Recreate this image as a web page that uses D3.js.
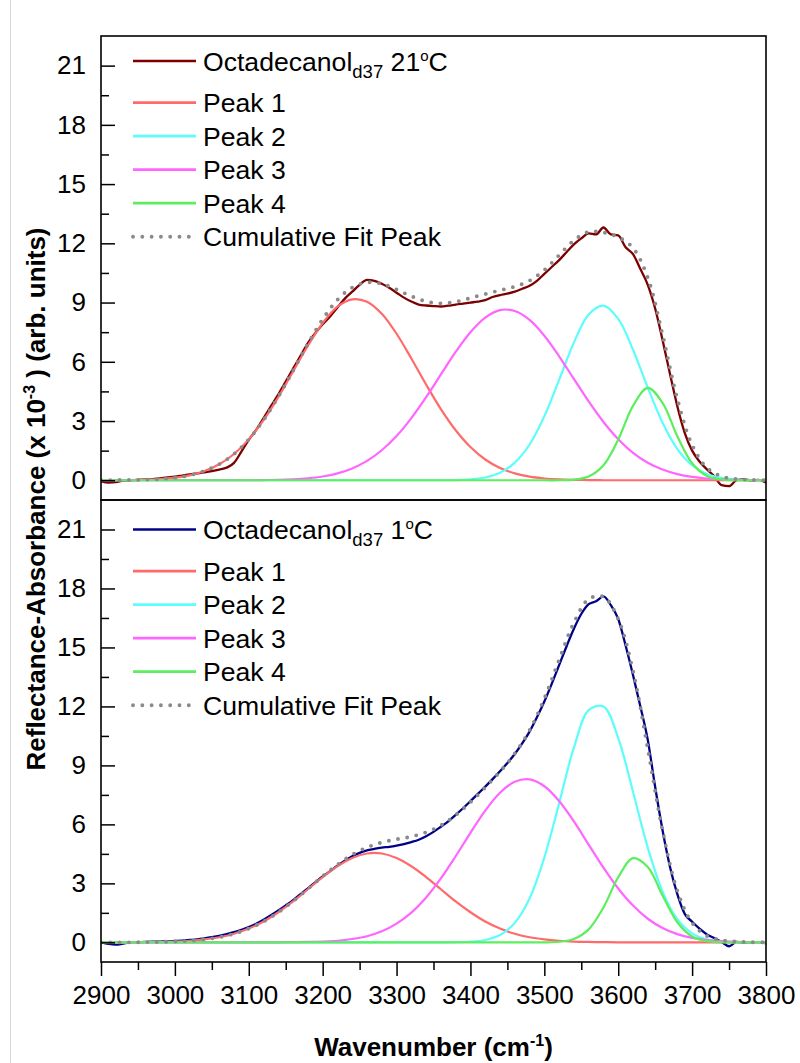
<!DOCTYPE html>
<html>
<head>
<meta charset="utf-8">
<script src="https://cdn.jsdelivr.net/npm/d3@7"></script>
<style>
  body { margin: 0; background: #fff; }
  svg text { font-family: "Liberation Sans", Arial, sans-serif; fill: #000; }
  .tick text { font-size: 26px; }
  .tick line { stroke: #000; stroke-width: 1.5; }
</style>
</head>
<body>
<svg id="chart" width="800" height="1063"></svg>
<script>
// Wavenumber grids (cm^-1)
const fitWavenumbers = [2900, 2920, 2940, 2960, 2980, 3000, 3020, 3040, 3060, 3080, 3100, 3120, 3140, 3160, 3180, 3200,
  3220, 3240, 3260, 3280, 3300, 3320, 3340, 3360, 3380, 3400, 3420, 3440, 3460, 3480, 3500, 3520, 3540, 3560, 3580,
  3600, 3620, 3640, 3660, 3680, 3700, 3720, 3740, 3760, 3780, 3800];
const dataWavenumbers = [2900, 2910, 2920, 2930, 2940, 2950, 2960, 2970, 2980, 2990, 3000, 3010, 3020, 3030, 3040, 3050,
  3060, 3070, 3080, 3090, 3100, 3110, 3120, 3130, 3140, 3150, 3160, 3170, 3180, 3190, 3200, 3210, 3220, 3230, 3240,
  3250, 3260, 3270, 3280, 3290, 3300, 3310, 3320, 3330, 3340, 3350, 3360, 3370, 3380, 3390, 3400, 3410, 3420, 3430,
  3440, 3450, 3460, 3470, 3480, 3490, 3500, 3510, 3520, 3530, 3540, 3550, 3560, 3570, 3580, 3590, 3600, 3610, 3620,
  3630, 3640, 3650, 3660, 3670, 3680, 3690, 3700, 3710, 3720, 3730, 3740, 3750, 3760, 3770, 3780, 3790, 3800];

// Octadecanol-d37 at 21 °C (x 10^-3)
const warmMeasured = [-0.05, -0.12, -0.10, -0.02, 0.00, 0.02, 0.04, 0.06, 0.10, 0.14,
  0.18, 0.24, 0.30, 0.35, 0.40, 0.46, 0.54, 0.64, 0.88, 1.45,
  2.05, 2.55, 3.15, 3.75, 4.35, 5.00, 5.65, 6.30, 6.95, 7.45,
  7.90, 8.30, 8.75, 9.20, 9.55, 9.90, 10.15, 10.10, 9.95, 9.75,
  9.50, 9.25, 9.05, 8.90, 8.85, 8.82, 8.80, 8.84, 8.90, 8.95,
  9.00, 9.05, 9.12, 9.28, 9.38, 9.45, 9.55, 9.70, 9.85, 10.10,
  10.45, 10.80, 11.15, 11.55, 11.95, 12.25, 12.50, 12.45, 12.80, 12.45,
  12.40, 11.80, 11.45, 10.70, 9.90, 8.70, 7.10, 5.40, 3.75, 2.40,
  1.50, 0.95, 0.55, 0.20, -0.25, -0.30, 0.00, 0.05, 0.00, 0.02,
  -0.12];
const warmPeak1 = [0.00, 0.01, 0.01, 0.03, 0.06, 0.13, 0.25, 0.47, 0.81, 1.33, 2.07, 3.04, 4.21, 5.51, 6.81, 7.96,
  8.79, 9.16, 9.04, 8.43, 7.42, 6.17, 4.85, 3.60, 2.53, 1.68, 1.05, 0.62, 0.35, 0.18, 0.09, 0.04, 0.02, 0.01, 0.00,
  0.00, 0.00, 0.00, 0.00, 0.00, 0.00, 0.00, 0.00, 0.00, 0.00, 0.00];
const warmPeak2 = [0.00, 0.00, 0.00, 0.00, 0.00, 0.00, 0.00, 0.00, 0.00, 0.00, 0.00, 0.00, 0.00, 0.00, 0.00, 0.00,
  0.00, 0.00, 0.00, 0.00, 0.00, 0.00, 0.00, 0.00, 0.01, 0.05, 0.14, 0.38, 0.89, 1.81, 3.24, 5.08, 6.97, 8.39, 8.84,
  8.17, 6.61, 4.69, 2.91, 1.58, 0.76, 0.32, 0.12, 0.04, 0.01, 0.00];
const warmPeak3 = [0.00, 0.00, 0.00, 0.00, 0.00, 0.00, 0.00, 0.00, 0.00, 0.00, 0.00, 0.01, 0.02, 0.05, 0.10, 0.19,
  0.35, 0.60, 0.98, 1.52, 2.24, 3.15, 4.21, 5.36, 6.50, 7.50, 8.24, 8.62, 8.57, 8.12, 7.32, 6.28, 5.13, 3.99, 2.95,
  2.08, 1.39, 0.89, 0.54, 0.31, 0.17, 0.09, 0.04, 0.02, 0.01, 0.00];
const warmPeak4 = [0.00, 0.00, 0.00, 0.00, 0.00, 0.00, 0.00, 0.00, 0.00, 0.00, 0.00, 0.00, 0.00, 0.00, 0.00, 0.00,
  0.00, 0.00, 0.00, 0.00, 0.00, 0.00, 0.00, 0.00, 0.00, 0.00, 0.00, 0.00, 0.00, 0.00, 0.00, 0.00, 0.03, 0.19, 0.76,
  2.06, 3.77, 4.68, 3.92, 2.23, 0.86, 0.22, 0.04, 0.00, 0.00, 0.00];
const warmCumulative = [0.00, 0.01, 0.01, 0.03, 0.06, 0.13, 0.25, 0.47, 0.81, 1.33, 2.07, 3.05, 4.23, 5.56, 6.91, 8.15,
  9.14, 9.76, 10.02, 9.95, 9.66, 9.32, 9.06, 8.96, 9.04, 9.23, 9.43, 9.62, 9.81, 10.11, 10.65, 11.40, 12.15, 12.58, 12.55,
  12.31, 11.77, 10.26, 7.37, 4.12, 1.79, 0.63, 0.20, 0.06, 0.02, 0.00];

// Octadecanol-d37 at 1 °C (x 10^-3)
const coldMeasured = [0.00, -0.08, -0.12, -0.06, 0.00, 0.01, 0.02, 0.03, 0.04, 0.05,
  0.07, 0.09, 0.12, 0.15, 0.20, 0.26, 0.33, 0.42, 0.52, 0.64,
  0.78, 0.95, 1.15, 1.38, 1.62, 1.88, 2.15, 2.45, 2.75, 3.05,
  3.35, 3.62, 3.90, 4.15, 4.38, 4.55, 4.68, 4.75, 4.82, 4.86,
  4.92, 5.00, 5.10, 5.22, 5.40, 5.62, 5.88, 6.15, 6.48, 6.82,
  7.18, 7.55, 7.92, 8.30, 8.70, 9.12, 9.58, 10.12, 10.72, 11.45,
  12.25, 13.15, 14.10, 15.05, 15.95, 16.70, 17.20, 17.35, 17.60, 17.15,
  16.45, 15.10, 13.60, 12.00, 10.30, 7.90, 5.70, 3.85, 2.45, 1.45,
  1.05, 0.70, 0.40, 0.22, 0.02, -0.20, 0.02, -0.02, 0.00, 0.01,
  -0.05];
const coldPeak1 = [0.00, 0.00, 0.00, 0.01, 0.02, 0.04, 0.08, 0.15, 0.26, 0.44, 0.70, 1.06, 1.53, 2.08, 2.70, 3.32,
  3.87, 4.29, 4.52, 4.52, 4.29, 3.87, 3.32, 2.70, 2.08, 1.53, 1.06, 0.70, 0.44, 0.26, 0.15, 0.08, 0.04, 0.02, 0.01,
  0.00, 0.00, 0.00, 0.00, 0.00, 0.00, 0.00, 0.00, 0.00, 0.00, 0.00];
const coldPeak2 = [0.00, 0.00, 0.00, 0.00, 0.00, 0.00, 0.00, 0.00, 0.00, 0.00, 0.00, 0.00, 0.00, 0.00, 0.00, 0.00,
  0.00, 0.00, 0.00, 0.00, 0.00, 0.00, 0.00, 0.00, 0.01, 0.03, 0.12, 0.37, 0.99, 2.23, 4.31, 7.07, 9.90, 11.81, 12.00,
  10.39, 7.66, 4.82, 2.58, 1.18, 0.46, 0.15, 0.04, 0.01, 0.00, 0.00];
const coldPeak3 = [0.00, 0.00, 0.00, 0.00, 0.00, 0.00, 0.00, 0.00, 0.00, 0.00, 0.00, 0.00, 0.00, 0.01, 0.02, 0.04,
  0.08, 0.17, 0.31, 0.56, 0.95, 1.51, 2.28, 3.25, 4.38, 5.57, 6.70, 7.61, 8.17, 8.29, 7.94, 7.19, 6.15, 4.97, 3.80,
  2.74, 1.87, 1.20, 0.73, 0.42, 0.23, 0.12, 0.06, 0.03, 0.01, 0.00];
const coldPeak4 = [0.00, 0.00, 0.00, 0.00, 0.00, 0.00, 0.00, 0.00, 0.00, 0.00, 0.00, 0.00, 0.00, 0.00, 0.00, 0.00,
  0.00, 0.00, 0.00, 0.00, 0.00, 0.00, 0.00, 0.00, 0.00, 0.00, 0.00, 0.00, 0.00, 0.00, 0.00, 0.03, 0.17, 0.66, 1.77,
  3.31, 4.28, 3.83, 2.38, 1.02, 0.30, 0.06, 0.01, 0.00, 0.00, 0.00];
const coldCumulative = [0.00, 0.00, 0.00, 0.01, 0.02, 0.04, 0.08, 0.15, 0.26, 0.44, 0.70, 1.06, 1.53, 2.09, 2.72, 3.36,
  3.95, 4.46, 4.83, 5.08, 5.24, 5.38, 5.60, 5.95, 6.47, 7.13, 7.88, 8.68, 9.60, 10.78, 12.40, 14.37, 16.26, 17.46, 17.58,
  16.44, 13.81, 9.85, 5.69, 2.62, 0.99, 0.33, 0.11, 0.04, 0.01, 0.00];

// Axis ticks and legend text
const xTicks = [2900, 3000, 3100, 3200, 3300, 3400, 3500, 3600, 3700, 3800];
const xMinorTicks = [2950, 3050, 3150, 3250, 3350, 3450, 3550, 3650, 3750];
const yTicks = [0, 3, 6, 9, 12, 15, 18, 21];
const yMinorTicks = [1.5, 4.5, 7.5, 10.5, 13.5, 16.5, 19.5];
const peakLabels = ["Peak 1", "Peak 2", "Peak 3", "Peak 4"];
const fitLabel = "Cumulative Fit Peak";
const temperatures = ["21", "1"];

// Layout and styling
const plotLeft = 101, plotRight = 766;
const legendFont = 26.6;
const peakColors = ["#ff6a6a", "#5ffcfc", "#ff66ff", "#5cee5c"];
const panels = [
  { measured: warmMeasured, peaks: [warmPeak1, warmPeak2, warmPeak3, warmPeak4], fit: warmCumulative,
    color: "#7d0000", temp: temperatures[0], top: 36, bottom: 500, legendY: 61 },
  { measured: coldMeasured, peaks: [coldPeak1, coldPeak2, coldPeak3, coldPeak4], fit: coldCumulative,
    color: "#00008a", temp: temperatures[1], top: 500, bottom: 962, legendY: 529.5 }
];

const svg = d3.select("#chart");

// thin page border on the left
svg.append("line").attr("x1", 10.5).attr("x2", 10.5).attr("y1", 0).attr("y2", 1063)
  .attr("stroke", "#d8d8d8").attr("stroke-width", 1);

const x = d3.scaleLinear().domain([2900, 3800]).range([plotLeft, plotRight]);

panels.forEach((p, i) => {
  const y = d3.scaleLinear().domain([-1, 22.5]).range([p.bottom, p.top]);
  const g = svg.append("g");

  const clipId = "clip" + i;
  svg.append("clipPath").attr("id", clipId).append("rect")
    .attr("x", plotLeft).attr("y", p.top).attr("width", plotRight - plotLeft).attr("height", p.bottom - p.top);

  const plot = g.append("g").attr("clip-path", `url(#${clipId})`);

  const dataLine = d3.line().x(d => x(d[0])).y(d => y(d[1])).curve(d3.curveMonotoneX);
  const fitLine = d3.line().x(d => x(d[0])).y(d => y(d[1])).curve(d3.curveCatmullRom.alpha(0.5));

  // measured spectrum
  plot.append("path")
    .datum(dataWavenumbers.map((w, k) => [w, p.measured[k]]))
    .attr("d", dataLine).attr("fill", "none").attr("stroke", p.color).attr("stroke-width", 2.3)
    .attr("stroke-linejoin", "round");

  // fitted component peaks
  p.peaks.forEach((vals, j) => {
    plot.append("path")
      .datum(fitWavenumbers.map((w, k) => [w, vals[k]]))
      .attr("d", fitLine).attr("fill", "none").attr("stroke", peakColors[j]).attr("stroke-width", 2.2);
  });

  // cumulative fit
  plot.append("path")
    .datum(fitWavenumbers.map((w, k) => [w, p.fit[k]]))
    .attr("d", fitLine).attr("fill", "none").attr("stroke", "#8a8a8a").attr("stroke-width", 3.9)
    .attr("stroke-linecap", "round").attr("stroke-dasharray", "0 9.3");

  // frame
  g.append("rect").attr("x", plotLeft).attr("y", p.top).attr("width", plotRight - plotLeft)
    .attr("height", p.bottom - p.top).attr("fill", "none").attr("stroke", "#000").attr("stroke-width", 1.6);

  // y axis: ticks point inward, labels outside
  g.append("g").attr("transform", `translate(${plotLeft},0)`)
    .call(d3.axisLeft(y).tickValues(yTicks).tickSize(-14).tickPadding(15))
    .call(a => a.select(".domain").remove());
  g.append("g").attr("transform", `translate(${plotLeft},0)`)
    .call(d3.axisLeft(y).tickValues(yMinorTicks).tickSize(-8).tickFormat(""))
    .call(a => a.select(".domain").remove());

  // legend
  const lg = g.append("g");
  const rows = [p.legendY, p.legendY + 41.7, p.legendY + 75.2, p.legendY + 108.7, p.legendY + 142.2, p.legendY + 175.7];
  const lx1 = 133, lx2 = 196, tx = 203;

  lg.append("line").attr("x1", lx1).attr("x2", lx2).attr("y1", rows[0]).attr("y2", rows[0])
    .attr("stroke", p.color).attr("stroke-width", 2.6);
  const t0 = lg.append("text").attr("x", tx).attr("y", rows[0] + 9.5).attr("font-size", legendFont);
  t0.append("tspan").text("Octadecanol");
  t0.append("tspan").attr("font-size", 18.5).attr("dy", 7).text("d37");
  t0.append("tspan").attr("dy", -7).text(" " + p.temp);
  t0.append("tspan").attr("font-size", 15).attr("dy", -10).text("o");
  t0.append("tspan").attr("dy", 10).text("C");

  peakLabels.forEach((lab, j) => {
    lg.append("line").attr("x1", lx1).attr("x2", lx2).attr("y1", rows[j + 1]).attr("y2", rows[j + 1])
      .attr("stroke", peakColors[j]).attr("stroke-width", 2.8);
    lg.append("text").attr("x", tx).attr("y", rows[j + 1] + 9.5).attr("font-size", legendFont).text(lab);
  });
  lg.append("line").attr("x1", lx1).attr("x2", lx2 - 6).attr("y1", rows[5]).attr("y2", rows[5])
    .attr("stroke", "#8a8a8a").attr("stroke-width", 3.9).attr("stroke-linecap", "round")
    .attr("stroke-dasharray", "0 9.3");
  lg.append("text").attr("x", tx).attr("y", rows[5] + 9.5).attr("font-size", legendFont).text(fitLabel);

  if (i === 1) {
    // x axis below the lower panel, ticks outward
    g.append("g").attr("transform", `translate(0,${p.bottom})`)
      .call(d3.axisBottom(x).tickValues(xTicks).tickSize(14).tickPadding(10).tickFormat(d3.format("d")))
      .call(a => a.select(".domain").remove());
    g.append("g").attr("transform", `translate(0,${p.bottom})`)
      .call(d3.axisBottom(x).tickValues(xMinorTicks).tickSize(8).tickFormat(""))
      .call(a => a.select(".domain").remove());
  }
});

// axis titles
const xt = svg.append("text").attr("x", (plotLeft + plotRight) / 2).attr("y", 1056)
  .attr("text-anchor", "middle").attr("font-size", 26).attr("font-weight", "bold");
xt.append("tspan").text("Wavenumber (cm");
xt.append("tspan").attr("font-size", 16).attr("dy", -10).text("-1");
xt.append("tspan").attr("dy", 10).text(")");

const yt = svg.append("text").attr("transform", "translate(45,499) rotate(-90)")
  .attr("text-anchor", "middle").attr("font-size", 26).attr("font-weight", "bold");
yt.append("tspan").text("Reflectance-Absorbance (x 10");
yt.append("tspan").attr("font-size", 16).attr("dy", -10).text("-3");
yt.append("tspan").attr("dy", 10).text(" ) (arb. units)");
</script>
</body>
</html>
